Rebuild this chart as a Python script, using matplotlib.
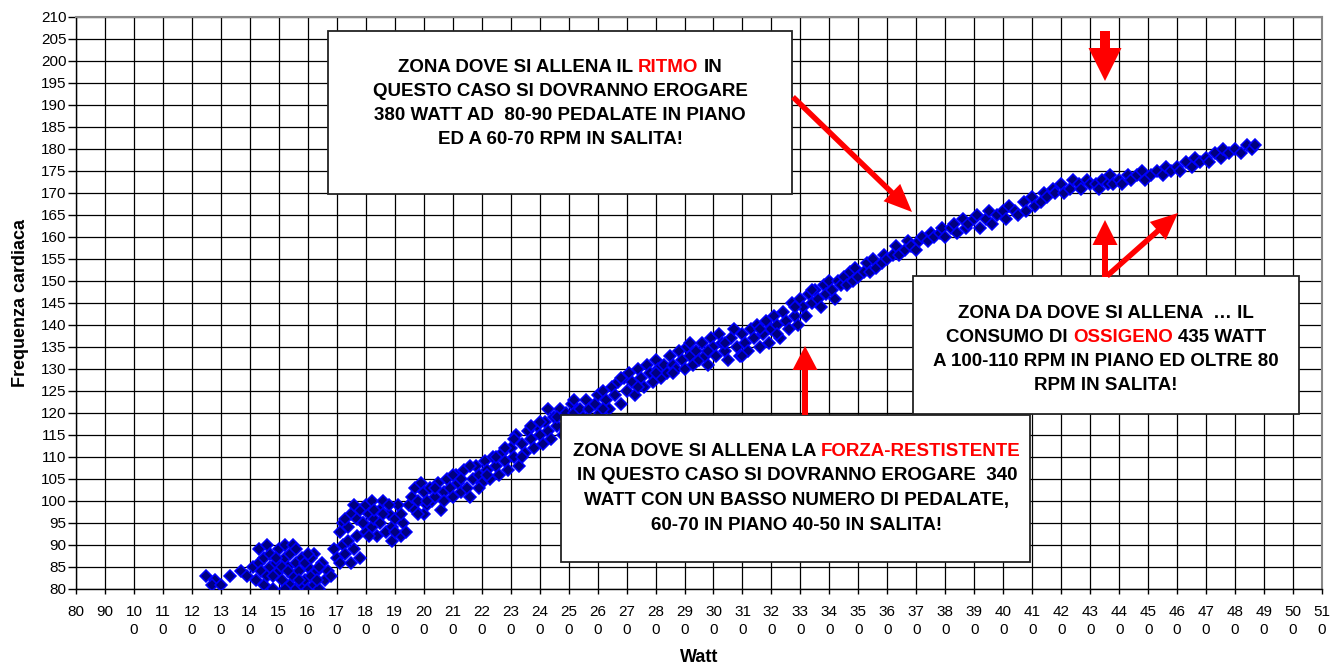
import matplotlib
matplotlib.use("Agg")
import matplotlib.pyplot as plt
from matplotlib.patches import Rectangle, FancyArrow

# ---------------- data ----------------
watt = [125,128,127,130,133,137,139,141,142,143,144,145,145,146,147,147,148,149,150,150,
        151,152,152,153,154,154,155,156,156,157,158,158,159,160,160,161,162,162,163,164,
        165,166,167,168,
        169,170,171,172,172,173,174,174,175,175,176,177,177,178,178,179,180,180,181,182,
        182,183,184,185,185,186,187,188,189,189,190,191,192,193,194,
        195,196,197,197,198,199,200,200,201,202,203,204,205,206,207,208,209,210,211,212,
        213,214,215,216,217,218,219,220,221,222,223,224,225,226,227,228,229,230,231,232,
        233,234,235,236,237,238,239,240,
        241,242,243,244,245,246,247,248,249,250,251,252,253,254,255,256,257,258,259,260,
        261,262,263,264,265,266,267,268,269,270,271,272,273,274,275,276,277,278,279,280,
        281,282,283,284,285,286,287,288,289,290,
        291,292,293,294,295,296,297,298,299,300,301,302,303,304,305,306,307,308,309,310,
        311,312,313,314,315,316,317,318,319,320,321,322,323,324,325,326,327,328,329,330,
        331,332,333,334,335,336,337,338,339,340,
        341,342,343,344,345,346,347,348,349,350,352,353,354,355,356,358,359,360,362,363,
        364,366,367,368,370,371,372,374,375,376,378,379,380,382,383,384,386,387,388,390,
        391,392,394,395,396,398,400,
        401,402,404,405,407,408,410,411,413,414,415,417,418,420,421,423,424,426,427,429,
        430,432,433,434,436,437,438,440,441,443,444,446,448,449,451,453,455,456,458,460,
        461,463,465,466,468,470,471,473,475,476,478,480,482,484,486,487,
        143,146,149,151,153,155,157,159,161,163,148,152,156,160,164,
        171,173,176,179,181,183,186,188,190,192,
        198,201,204,207,210,213,216,219,222,225,228,231,234,237,240,243,246,249,252,
        256,262,268,274,280,286,292,298,304,310,316,322,328,334]
freq = [83,82,81,81,83,84,83,85,82,86,84,87,81,83,85,88,80,86,89,84,
        82,87,90,85,81,88,83,86,80,84,87,81,82,85,80,83,88,81,84,80,
        86,82,84,83,
        89,87,86,90,95,88,94,91,97,86,89,96,92,98,87,95,99,93,97,100,
        94,96,92,98,95,100,93,97,94,91,96,99,92,95,93,
        99,101,103,98,100,104,102,97,99,103,100,101,104,98,102,105,103,101,106,104,
        102,107,103,101,105,108,106,104,109,107,105,110,108,106,111,109,107,112,110,115,
        108,113,111,116,114,112,117,115,
        113,118,116,114,119,117,121,115,120,118,122,120,117,121,119,123,121,118,122,124,
        120,125,123,121,126,124,127,122,128,125,129,127,124,130,128,126,131,129,127,132,
        130,128,131,129,133,131,130,134,132,130,
        135,133,131,134,132,136,133,131,137,135,133,138,136,134,132,137,139,135,133,138,
        136,134,139,137,140,135,138,141,136,139,142,140,137,143,141,139,145,142,140,146,
        144,142,147,145,148,146,144,149,147,150,
        148,146,150,149,151,149,152,150,153,151,152,154,152,155,153,154,156,155,156,158,
        156,157,159,158,157,159,160,159,161,160,161,162,160,162,163,161,164,162,163,164,
        165,162,164,166,163,165,166,
        164,167,166,165,168,166,169,167,168,170,169,171,170,172,170,171,173,172,171,173,
        172,172,171,173,172,174,172,173,172,174,173,174,175,173,174,175,174,176,175,176,
        175,177,176,178,177,178,177,179,178,180,179,180,179,181,180,181,
        89,90,87,85,84,90,82,86,87,82,83,80,89,88,85,
        93,96,99,95,92,98,97,99,93,97,
        97,100,103,100,106,105,108,103,106,110,112,114,110,117,118,121,119,116,123,
        117,121,128,126,129,129,136,134,136,133,139,138,144,148]

x_ticks = list(range(80, 511, 10))
x_tick_labels = [str(v) if v < 100 else str(v)[:2] + "\n" + str(v)[2:] for v in x_ticks]
y_ticks = list(range(80, 211, 5))
y_tick_labels = [str(v) for v in y_ticks]

FONT = "Liberation Sans"
plt.rcParams['font.family'] = [FONT, 'DejaVu Sans']

W, H = 1331, 666
fig = plt.figure(figsize=(W / 100, H / 100), dpi=100)
ax = fig.add_axes([76 / W, 1 - 589 / H, (1322 - 76) / W, (589 - 17) / H])

ax.set_xlim(80, 510)
ax.set_ylim(80, 210)
ax.set_xticks(x_ticks)
ax.set_xticklabels(x_tick_labels, fontsize=11, linespacing=1.4)
ax.set_yticks(y_ticks)
ax.set_yticklabels(y_tick_labels, fontsize=11)
ax.tick_params(axis='x', direction='out', length=3.5, width=1, color='black', pad=8)
ax.tick_params(axis='y', direction='out', length=6, width=1, color='black', pad=1)
ax.grid(True, color='black', linewidth=0.9)
ax.set_axisbelow(True)
for s in ['left', 'bottom']:
    ax.spines[s].set_color('black')
    ax.spines[s].set_linewidth(1.0)
for s in ['top', 'right']:
    ax.spines[s].set_color('#888888')
    ax.spines[s].set_linewidth(1.5)

ax.plot(watt, freq, linestyle='none', marker='D', markersize=6.3,
        markerfacecolor='#000080', markeredgecolor='#0000FF', markeredgewidth=1.1,
        zorder=3)

fig.text(699 / W, 1 - 658 / H, "Watt", ha='center', va='center',
         fontsize=13, fontweight='bold')
fig.text(21 / W, 1 - 303 / H, "Frequenza cardiaca", ha='center', va='center',
         rotation=90, fontsize=13, fontweight='bold')

# ---------------- overlay in pixel coordinates ----------------
ov = fig.add_axes([0, 0, 1, 1])
ov.set_xlim(0, W)
ov.set_ylim(H, 0)
ov.axis('off')
ov.patch.set_alpha(0)

renderer = fig.canvas.get_renderer()
FS = 13.5


def meas(s):
    t1 = ov.text(0, 0, "|" + s + "|", fontsize=FS, fontweight='bold')
    t2 = ov.text(0, 0, "||", fontsize=FS, fontweight='bold')
    w = t1.get_window_extent(renderer).width - t2.get_window_extent(renderer).width
    t1.remove(); t2.remove()
    return w


def line(cx, cy, segments):
    full = "".join(s for s, c in segments)
    total = meas(full)
    left = cx - total / 2
    pos = 0
    for s, c in segments:
        st = s.lstrip()
        lead = len(s) - len(st)
        x = left + meas(full[:pos + lead]) if pos + lead > 0 else left
        ov.text(x, cy, st.rstrip(), color=c, fontsize=FS, fontweight='bold',
                ha='left', va='center')
        pos += len(s)


def box(x0, y0, x1, y1):
    ov.add_patch(Rectangle((x0, y0), x1 - x0, y1 - y0, facecolor='white',
                           edgecolor='#222222', linewidth=1.3, zorder=1))


R = '#FF0000'
K = 'black'

# box 1
box(328, 31, 792, 194)
line(560, 68, [("ZONA DOVE SI ALLENA IL ", K), ("RITMO", R), (" IN", K)])
line(560, 92, [("QUESTO CASO SI DOVRANNO EROGARE", K)])
line(560, 116, [("380 WATT AD  80-90 PEDALATE IN PIANO", K)])
line(560, 140, [("ED A 60-70 RPM IN SALITA!", K)])

# box 2
box(561, 415, 1030, 562)
line(797, 452, [("ZONA DOVE SI ALLENA LA ", K), ("FORZA-RESTISTENTE", R)])
line(797, 476, [("IN QUESTO CASO SI DOVRANNO EROGARE  340", K)])
line(797, 500, [("WATT CON UN BASSO NUMERO DI PEDALATE,", K)])
line(797, 525, [("60-70 IN PIANO 40-50 IN SALITA!", K)])

# box 3
box(913, 276, 1299, 414)
line(1106, 313, [("ZONA DA DOVE SI ALLENA  \u2026 IL", K)])
line(1106, 337, [("CONSUMO DI ", K), ("OSSIGENO", R), (" 435 WATT", K)])
line(1106, 361, [("A 100-110 RPM IN PIANO ED OLTRE 80", K)])
line(1106, 385, [("RPM IN SALITA!", K)])


def arrow(x0, y0, x1, y1, width, hw, hl):
    ov.add_patch(FancyArrow(x0, y0, x1 - x0, y1 - y0, width=width, head_width=hw,
                            head_length=hl, length_includes_head=True,
                            color=R, linewidth=0, zorder=2))


arrow(793, 97, 912, 212, 5.5, 24, 28)
arrow(1105, 31, 1105, 81, 10, 33, 33)
arrow(1105, 277, 1105, 220, 6, 25, 25)
arrow(1107, 276, 1178, 213, 5.5, 24, 27)
arrow(805, 415, 805, 346, 6, 25, 24)

fig.savefig("out.png", dpi=100)
